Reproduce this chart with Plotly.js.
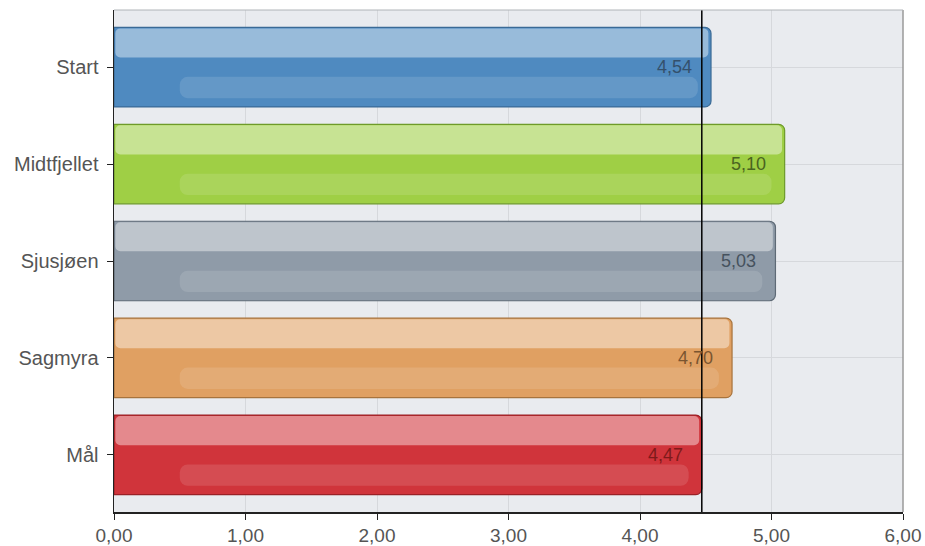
<!DOCTYPE html>
<html><head><meta charset="utf-8">
<script src="https://cdn.plot.ly/plotly-3.0.1.min.js"></script>
<style>body{margin:0;background:#fff}#chart{width:925px;height:546px}</style>
</head><body><div id="chart"></div>
<script>
const categories = ["Start", "Midtfjellet", "Sjusjøen", "Sagmyra", "Mål"];
const values = [4.54, 5.10, 5.03, 4.70, 4.47];
const refValue = 4.47;
const xTicks = [0, 1, 2, 3, 4, 5, 6];
const barColors = ["#4f8ac0", "#9fcf45", "#8f9ba8", "#e0a062", "#d0343b"];
const lineColors = ["#3a6a96", "#6e9a2a", "#5e6a76", "#a8733c", "#9a2026"];
const labelColors = ["#34506c", "#4a6420", "#46525e", "#7a5530", "#7e1a1a"];

const fmt = v => v.toFixed(2).replace('.', ',');

const traces = [
  {
    type: 'bar', orientation: 'h', x: values, y: categories, width: 0.82,
    marker: {color: barColors, line: {color: lineColors, width: 1.2}, cornerradius: 6},
    hoverinfo: 'skip', showlegend: false
  },
  {
    type: 'bar', orientation: 'h', x: values.map(v => v - 0.03), y: categories,
    width: 0.3, offset: -0.4, base: 0.01,
    marker: {color: 'rgba(255,255,255,0.42)', line: {width: 0}, cornerradius: 5},
    hoverinfo: 'skip', showlegend: false
  },
  {
    type: 'bar', orientation: 'h', x: values.map(v => v - 0.6), y: categories,
    width: 0.22, offset: 0.1, base: 0.5,
    marker: {color: 'rgba(255,255,255,0.12)', line: {width: 0}, cornerradius: 8},
    hoverinfo: 'skip', showlegend: false
  }
];

const annotations = values.map((v, i) => ({
  x: v, y: categories[i], xref: 'x', yref: 'y', text: fmt(v),
  showarrow: false, xanchor: 'right', xshift: -17,
  font: {family: 'Liberation Sans, Arial, sans-serif', size: 18, color: labelColors[i]}
}));

const layout = {
  width: 925, height: 546,
  margin: {l: 114, r: 22, t: 10, b: 34},
  paper_bgcolor: '#ffffff', plot_bgcolor: '#e9ebef',
  barmode: 'overlay',
  separators: ',.',
  font: {family: 'Liberation Sans, Arial, sans-serif', size: 19, color: '#555'},
  xaxis: {
    range: [0, 6], tickvals: xTicks, tickformat: '.2f',
    showgrid: true, gridcolor: '#d6d8dc', gridwidth: 1,
    showline: true, linecolor: '#222', linewidth: 1.5,
    ticks: 'outside', ticklen: 6, tickcolor: '#222',
    zeroline: false, fixedrange: true,
    tickfont: {size: 19, color: '#555'}
  },
  yaxis: {
    categoryorder: 'array', categoryarray: categories,
    autorange: false, range: [4.59, -0.59],
    showgrid: true, gridcolor: '#d6d8dc',
    showline: true, linecolor: '#222', linewidth: 1.5,
    ticks: 'outside', ticklen: 6, tickcolor: '#222',
    ticklabelstandoff: 4,
    tickfont: {size: 20, color: '#555'}, fixedrange: true
  },
  shapes: [
    {type: 'line', xref: 'x', yref: 'paper', x0: refValue, x1: refValue, y0: 0, y1: 1,
     line: {color: '#000', width: 1.5}},
    {type: 'line', xref: 'paper', yref: 'paper', x0: 1, x1: 1, y0: 0, y1: 1,
     line: {color: '#9a9a9a', width: 1.5}},
    {type: 'line', xref: 'paper', yref: 'paper', x0: 0, x1: 1, y0: 1, y1: 1,
     line: {color: '#b0b4b8', width: 1}}
  ],
  annotations: annotations
};

Plotly.newPlot('chart', traces, layout, {displayModeBar: false, staticPlot: true});
</script></body></html>
